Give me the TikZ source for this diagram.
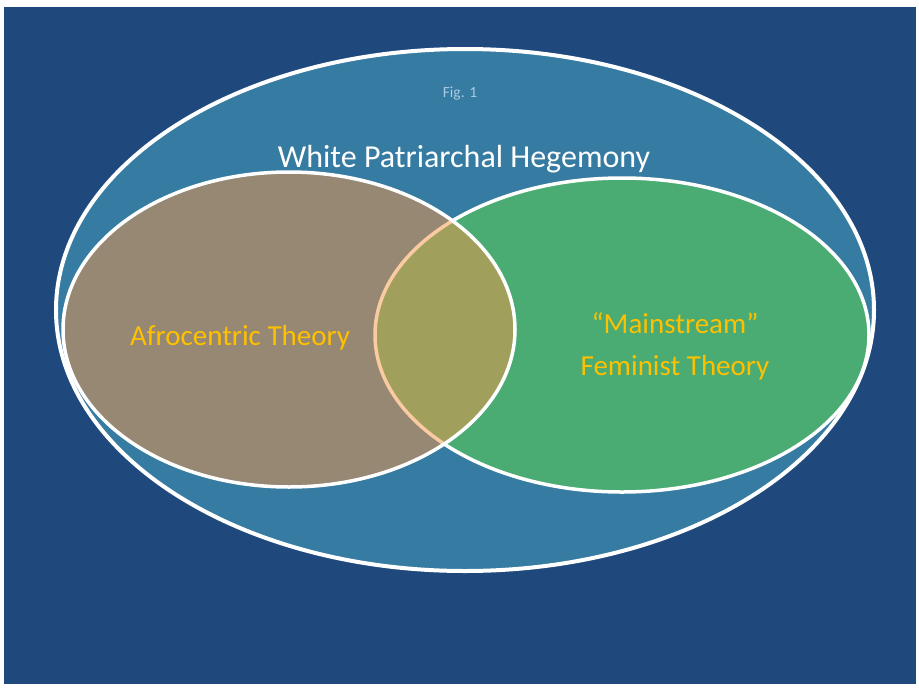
\documentclass[tikz,border=0pt]{standalone}
\usepackage{fontspec}
\setmainfont{Carlito}
\definecolor{deepblue}{HTML}{1F497D}
\definecolor{hegblue}{HTML}{367BA1}
\definecolor{femgreen}{HTML}{4AAC73}
\definecolor{afroorange}{HTML}{F79646}
\definecolor{labelgold}{HTML}{FFC000}
\definecolor{figgrey}{HTML}{A9CCE2}

\begin{document}
\begin{tikzpicture}[x=1pt,y=-1pt,
    ring/.style={draw=white,line width=3.5pt},
    label/.style={font=\fontsize{29}{33}\selectfont,text=labelgold,align=center}]
      \useasboundingbox (0,0) rectangle (919,689);
      \fill[deepblue] (4,7) rectangle (916,684);
      % outer set
      \filldraw[ring,line width=4pt,fill=hegblue] (465,310) ellipse [x radius=409pt,y radius=261pt];
      % the two theories
      \filldraw[ring,fill=femgreen] (622,335) ellipse [x radius=247pt,y radius=157pt];
      \filldraw[ring,fill=afroorange,fill opacity=0.5] (289,329.5) ellipse [x radius=226pt,y radius=157.5pt];
      \node[text=figgrey,font=\fontsize{15.5}{18}\selectfont] (fig) at (460,93) {Fig. 1};
      \node[text=white,font=\fontsize{32}{36}\selectfont] (hegemony) at (464,159) {White Patriarchal Hegemony};
      \node[label] (afro) at (240,338) {Afrocentric Theory};
      \node[label] (mainstream) at (675,323) {“Mainstream”};
      \node[label] (feminist) at (675,368) {Feminist Theory};
    \end{tikzpicture}
\end{document}
